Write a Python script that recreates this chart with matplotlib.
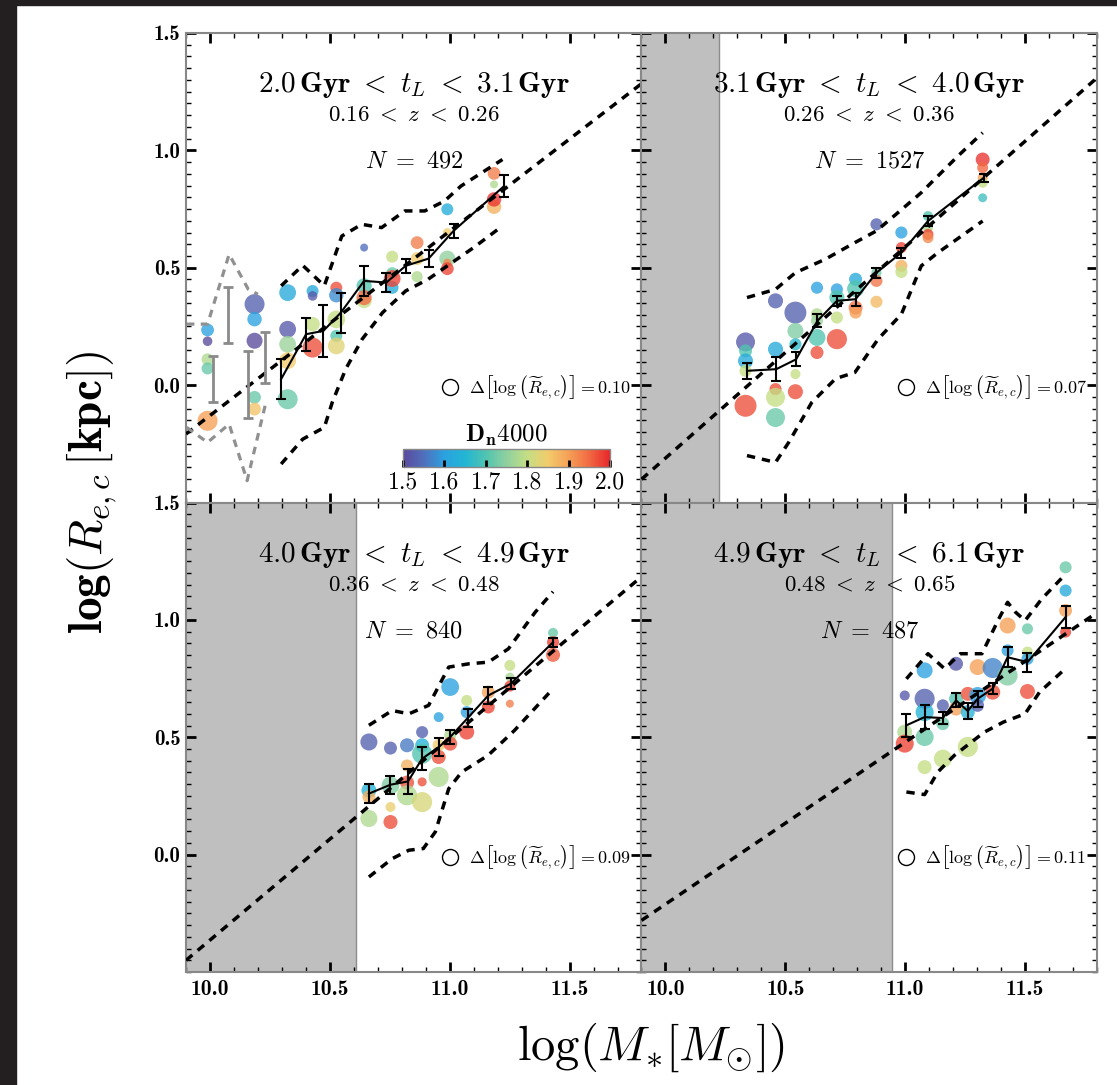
import numpy as np
import matplotlib
matplotlib.use("Agg")
import matplotlib.pyplot as plt
from matplotlib.colors import LinearSegmentedColormap, Normalize
from matplotlib.patches import Rectangle
from matplotlib.ticker import MultipleLocator

plt.rcParams['mathtext.fontset'] = 'cm'
plt.rcParams['font.family'] = 'cmb10'
plt.rcParams['axes.unicode_minus'] = False

# ---- data ----
# panel 1 : 2.0 < tL < 3.1 Gyr
p1_x = [9.99, 9.99, 9.99, 9.99, 9.99,
        10.186, 10.186, 10.186, 10.186, 10.186,
        10.324, 10.324, 10.324, 10.324, 10.324,
        10.428, 10.428, 10.428, 10.428,
        10.527, 10.527, 10.527, 10.527, 10.527,
        10.643, 10.643, 10.643, 10.643,
        10.76, 10.76, 10.76, 10.76,
        10.864, 10.864, 10.864,
        10.99, 10.99, 10.99, 10.99, 10.99,
        11.185, 11.185, 11.185, 11.185]
p1_y = [0.235, 0.187, 0.11, 0.071, -0.152,
        0.345, 0.281, 0.189, -0.052, -0.102,
        0.394, 0.238, 0.174, 0.104, -0.06,
        0.401, 0.38, 0.26, 0.16,
        0.415, 0.383, 0.28, 0.21, 0.167,
        0.586, 0.423, 0.36, 0.373,
        0.547, 0.477, 0.416, 0.454,
        0.607, 0.539, 0.462,
        0.749, 0.65, 0.539, 0.522, 0.496,
        0.902, 0.855, 0.76, 0.791]
p1_dn = [1.60, 1.50, 1.78, 1.72, 1.90,
         1.53, 1.60, 1.50, 1.72, 1.86,
         1.62, 1.52, 1.76, 1.85, 1.72,
         1.62, 1.52, 1.80, 1.97,
         1.97, 1.58, 1.80, 1.70, 1.83,
         1.55, 1.70, 1.80, 1.95,
         1.80, 1.72, 1.63, 1.98,
         1.93, 1.85, 1.78,
         1.63, 1.85, 1.75, 1.92, 1.98,
         1.93, 1.78, 1.88, 1.99]
p1_dr = [0.08, 0.06, 0.075, 0.075, 0.125,
         0.125, 0.09, 0.10, 0.08, 0.08,
         0.105, 0.105, 0.105, 0.105, 0.125,
         0.075, 0.06, 0.09, 0.125,
         0.075, 0.09, 0.11, 0.075, 0.105,
         0.05, 0.095, 0.095, 0.095,
         0.075, 0.075, 0.08, 0.105,
         0.08, 0.08, 0.07,
         0.075, 0.055, 0.10, 0.05, 0.08,
         0.08, 0.05, 0.09, 0.09]
p1_med_x = [10.297, 10.401, 10.473, 10.546, 10.643, 10.736, 10.816, 10.912, 11.016, 11.227]
p1_med_y = [0.026, 0.217, 0.231, 0.309, 0.444, 0.437, 0.508, 0.539, 0.657, 0.848]
p1_med_e = [0.085, 0.07, 0.11, 0.085, 0.064, 0.042, 0.03, 0.037, 0.03, 0.045]
p1_up_x = [10.297, 10.387, 10.477, 10.55, 10.633, 10.716, 10.813, 10.896, 10.978, 11.047, 11.22]
p1_up_y = [0.423, 0.51, 0.423, 0.635, 0.685, 0.671, 0.742, 0.742, 0.784, 0.848, 0.961]
p1_lo_x = [10.297, 10.387, 10.477, 10.51, 10.566, 10.635, 10.72, 10.816, 10.91, 10.99, 11.1, 11.22]
p1_lo_y = [-0.336, -0.23, -0.18, -0.074, 0.068, 0.196, 0.309, 0.401, 0.451, 0.508, 0.586, 0.678]
# incomplete low-mass bins (grey)
p1_gr_x = [10.013, 10.076, 10.159, 10.228]
p1_gr_y = [0.027, 0.30, 0.004, 0.119]
p1_gr_e = [0.098, 0.12, 0.142, 0.108]
p1_gup_x = [9.903, 9.99, 10.08, 10.16, 10.2]
p1_gup_y = [0.26, 0.26, 0.557, 0.408, 0.387]
p1_glo_x = [9.903, 9.99, 10.08, 10.155, 10.23]
p1_glo_y = [-0.18, -0.244, -0.166, -0.407, -0.088]

# panel 2 : 3.1 < tL < 4.0 Gyr
p2_x = [10.334] * 5 + [10.459] * 5 + [10.542] * 5 + [10.632] * 5 + [10.715] * 4 + \
       [10.793] * 4 + [10.88] * 4 + [10.984] * 4 + [11.095] * 4 + [11.323] * 5
p2_y = [0.184, 0.146, 0.103, 0.061, -0.088,
        0.359, 0.153, -0.017, -0.052, -0.138,
        0.309, 0.231, 0.174, 0.047, -0.028,
        0.415, 0.302, 0.274, 0.203, 0.139,
        0.408, 0.373, 0.288, 0.196,
        0.451, 0.411, 0.33, 0.309,
        0.685, 0.479, 0.444, 0.355,
        0.65, 0.586, 0.508, 0.482,
        0.72, 0.671, 0.642, 0.628,
        0.961, 0.926, 0.883, 0.862, 0.798]
p2_dn = [1.52, 1.70, 1.62, 1.80, 1.97,
         1.53, 1.62, 1.97, 1.80, 1.72,
         1.53, 1.74, 1.66, 1.80, 1.97,
         1.60, 1.78, 1.76, 1.70, 1.97,
         1.60, 1.70, 1.80, 1.97,
         1.62, 1.70, 1.94, 1.90,
         1.53, 1.72, 1.94, 1.87,
         1.60, 1.98, 1.88, 1.80,
         1.70, 1.78, 1.98, 1.92,
         1.99, 1.95, 1.90, 1.80, 1.68]
p2_dr = [0.083, 0.057, 0.066, 0.053, 0.096,
         0.066, 0.066, 0.053, 0.083, 0.083,
         0.096, 0.07, 0.053, 0.044, 0.066,
         0.053, 0.053, 0.053, 0.074, 0.057,
         0.053, 0.066, 0.053, 0.088,
         0.057, 0.074, 0.061, 0.053,
         0.053, 0.044, 0.053, 0.053,
         0.053, 0.048, 0.053, 0.053,
         0.044, 0.044, 0.048, 0.048,
         0.061, 0.048, 0.044, 0.044, 0.039]
p2_med_x = [10.34, 10.462, 10.545, 10.634, 10.715, 10.793, 10.88, 10.984, 11.095, 11.327]
p2_med_y = [0.061, 0.068, 0.11, 0.274, 0.359, 0.366, 0.479, 0.564, 0.699, 0.883]
p2_med_e = [0.033, 0.052, 0.03, 0.028, 0.02, 0.027, 0.021, 0.021, 0.021, 0.018]
p2_up_x = [10.34, 10.459, 10.542, 10.666, 10.79, 10.88, 10.97, 11.067, 11.22, 11.323]
p2_up_y = [0.373, 0.408, 0.479, 0.536, 0.607, 0.657, 0.735, 0.82, 0.976, 1.075]
p2_lo_x = [10.34, 10.459, 10.514, 10.61, 10.71, 10.79, 10.887, 10.984, 11.067, 11.136, 11.323]
p2_lo_y = [-0.3, -0.329, -0.244, -0.074, 0.028, 0.054, 0.196, 0.302, 0.508, 0.564, 0.699]

# panel 3 : 4.0 < tL < 4.9 Gyr
p3_x = [10.663] * 4 + [10.753] * 4 + [10.822] * 4 + [10.885] * 5 + [10.954] * 4 + \
       [11.002] * 3 + [11.071] * 3 + [11.161] * 2 + [11.251] * 4 + [11.431] * 3
p3_y = [0.48, 0.274, 0.246, 0.154,
        0.454, 0.295, 0.203, 0.139,
        0.466, 0.38, 0.307, 0.253,
        0.522, 0.466, 0.43, 0.31, 0.224,
        0.586, 0.466, 0.416, 0.331,
        0.714, 0.508, 0.473,
        0.657, 0.607, 0.522,
        0.692, 0.629,
        0.806, 0.756, 0.718, 0.643,
        0.945, 0.905, 0.851]
p3_dn = [1.53, 1.64, 1.88, 1.78,
         1.53, 1.74, 1.84, 1.97,
         1.56, 1.88, 1.97, 1.78,
         1.53, 1.64, 1.70, 1.97, 1.82,
         1.60, 1.85, 1.97, 1.78,
         1.60, 1.78, 1.97,
         1.80, 1.60, 1.98,
         1.90, 1.98,
         1.80, 1.77, 1.98, 1.93,
         1.72, 1.98, 1.96]
p3_dr = [0.096, 0.084, 0.073, 0.096,
         0.073, 0.10, 0.056, 0.079,
         0.079, 0.068, 0.079, 0.113,
         0.068, 0.079, 0.113, 0.051, 0.113,
         0.056, 0.068, 0.079, 0.113,
         0.10, 0.068, 0.079,
         0.062, 0.068, 0.084,
         0.073, 0.073,
         0.062, 0.051, 0.062, 0.045,
         0.056, 0.068, 0.079]
p3_med_x = [10.663, 10.753, 10.826, 10.885, 10.954, 11.002, 11.075, 11.161, 11.255, 11.431]
p3_med_y = [0.26, 0.298, 0.312, 0.409, 0.458, 0.501, 0.582, 0.678, 0.728, 0.905]
p3_med_e = [0.042, 0.039, 0.055, 0.05, 0.039, 0.028, 0.039, 0.035, 0.024, 0.019]
p3_up_x = [10.663, 10.76, 10.83, 10.912, 10.996, 11.08, 11.161, 11.245, 11.356, 11.431]
p3_up_y = [0.551, 0.614, 0.6, 0.636, 0.799, 0.813, 0.82, 0.877, 1.032, 1.12]
p3_lo_x = [10.663, 10.76, 10.83, 10.89, 10.94, 10.996, 11.05, 11.16, 11.27, 11.431]
p3_lo_y = [-0.095, -0.017, 0.019, 0.026, 0.097, 0.281, 0.352, 0.423, 0.529, 0.707]

# panel 4 : 4.9 < tL < 6.1 Gyr
p4_x = [10.998] * 3 + [11.081] * 5 + [11.157] * 3 + [11.212] * 3 + [11.261] * 3 + \
       [11.302] * 3 + [11.365] * 2 + [11.427] * 3 + [11.51] * 4 + [11.669] * 4
p4_y = [0.678, 0.522, 0.473,
        0.785, 0.664, 0.607, 0.501, 0.373,
        0.636, 0.558, 0.409,
        0.813, 0.664, 0.622,
        0.685, 0.607, 0.459,
        0.799, 0.678, 0.636,
        0.795, 0.692,
        0.976, 0.763, 0.87,
        0.962, 0.863, 0.834, 0.695,
        1.224, 1.125, 1.04, 0.948]
p4_dn = [1.52, 1.78, 1.98,
         1.60, 1.53, 1.64, 1.72, 1.80,
         1.53, 1.72, 1.80,
         1.52, 1.70, 1.90,
         1.97, 1.64, 1.80,
         1.90, 1.60, 1.53,
         1.57, 1.97,
         1.90, 1.74, 1.60,
         1.72, 1.80, 1.60, 1.97,
         1.72, 1.62, 1.90, 1.98]
p4_dr = [0.069, 0.103, 0.124,
         0.11, 0.138, 0.124, 0.124, 0.096,
         0.083, 0.089, 0.124,
         0.096, 0.096, 0.096,
         0.096, 0.096, 0.138,
         0.11, 0.117, 0.089,
         0.138, 0.103,
         0.11, 0.138, 0.083,
         0.076, 0.076, 0.083, 0.103,
         0.083, 0.083, 0.089, 0.076]
p4_med_x = [11.005, 11.081, 11.157, 11.212, 11.261, 11.302, 11.365, 11.427, 11.51, 11.669]
p4_med_y = [0.551, 0.586, 0.582, 0.657, 0.612, 0.664, 0.707, 0.841, 0.82, 1.012]
p4_med_e = [0.05, 0.05, 0.025, 0.03, 0.035, 0.035, 0.024, 0.042, 0.04, 0.047]
p4_up_x = [11.005, 11.095, 11.164, 11.23, 11.32, 11.39, 11.427, 11.46, 11.5, 11.57, 11.67]
p4_up_y = [0.749, 0.856, 0.792, 0.856, 0.856, 1.004, 1.075, 1.033, 0.997, 1.09, 1.196]
p4_lo_x = [11.005, 11.081, 11.136, 11.205, 11.33, 11.41, 11.5, 11.56, 11.66]
p4_lo_y = [0.267, 0.256, 0.352, 0.423, 0.522, 0.565, 0.6, 0.692, 0.785]

# reference relation (end points) and mass-completeness limits
ref_x = [9.9, 11.8]
ref_y = [[-0.208, 1.284], [-0.401, 1.309], [-0.45, 1.184], [-0.28, 1.031]]
mass_lim = [None, 10.224, 10.608, 10.946]

titles = [r'$\mathbf{2.0\,Gyr}\ <\ t_L\ <\ \mathbf{3.1\,Gyr}$',
          r'$\mathbf{3.1\,Gyr}\ <\ t_L\ <\ \mathbf{4.0\,Gyr}$',
          r'$\mathbf{4.0\,Gyr}\ <\ t_L\ <\ \mathbf{4.9\,Gyr}$',
          r'$\mathbf{4.9\,Gyr}\ <\ t_L\ <\ \mathbf{6.1\,Gyr}$']
zrange = [r'$\mathbf{0.16}\ <\ z\ <\ \mathbf{0.26}$',
          r'$\mathbf{0.26}\ <\ z\ <\ \mathbf{0.36}$',
          r'$\mathbf{0.36}\ <\ z\ <\ \mathbf{0.48}$',
          r'$\mathbf{0.48}\ <\ z\ <\ \mathbf{0.65}$']
n_gal = [492, 1527, 840, 487]
d_ref = [0.10, 0.07, 0.09, 0.11]

panels = [
    (p1_x, p1_y, p1_dn, p1_dr, p1_med_x, p1_med_y, p1_med_e, p1_up_x, p1_up_y, p1_lo_x, p1_lo_y),
    (p2_x, p2_y, p2_dn, p2_dr, p2_med_x, p2_med_y, p2_med_e, p2_up_x, p2_up_y, p2_lo_x, p2_lo_y),
    (p3_x, p3_y, p3_dn, p3_dr, p3_med_x, p3_med_y, p3_med_e, p3_up_x, p3_up_y, p3_lo_x, p3_lo_y),
    (p4_x, p4_y, p4_dn, p4_dr, p4_med_x, p4_med_y, p4_med_e, p4_up_x, p4_up_y, p4_lo_x, p4_lo_y),
]

cmap = LinearSegmentedColormap.from_list('dn', [
    '#5b4a9c', '#4f70bc', '#2aa2e0', '#22b6d4', '#50c4b0', '#8fd0a0',
    '#c4de84', '#f2cc6c', '#f5a057', '#f16a42', '#e8262a'])
norm = Normalize(1.5, 2.0)

fig, axes = plt.subplots(2, 2, figsize=(11.17, 10.85), dpi=100)
fig.subplots_adjust(left=0.1665, right=0.9821, top=0.9696, bottom=0.1041,
                    wspace=0, hspace=0)

LEG_PX = 16.0  # legend circle diameter in pixels
DASH = (0, (2.4, 2.0))
for i, ax in enumerate(axes.flat):
    (x, y, dn, dr, mx, my, me, ux, uy, lx, ly) = panels[i]
    ax.set_xlim(9.9, 11.8)
    ax.set_ylim(-0.5, 1.5)

    if mass_lim[i] is not None:
        ax.axvspan(9.9, mass_lim[i], color='#bfbfbf', zorder=0, lw=0)
        ax.axvline(mass_lim[i], color='#8c8c8c', lw=1, zorder=0.5)

    diam = LEG_PX * np.array(dr) / d_ref[i] * 0.72
    ax.scatter(x, y, s=diam ** 2, c=dn, cmap=cmap, norm=norm,
               alpha=0.78, edgecolors='none', zorder=2)

    ax.plot(ref_x, ref_y[i], color='k', lw=2.5, ls=DASH, zorder=3)
    ax.plot(ux, uy, color='k', lw=2.5, ls=DASH, zorder=3)
    ax.plot(lx, ly, color='k', lw=2.5, ls=DASH, zorder=3)
    ax.errorbar(mx, my, yerr=me, color='k', lw=1.5, capsize=3.5, capthick=1.5,
                elinewidth=1.5, zorder=4)

    if i == 0:
        ax.plot(p1_gup_x, p1_gup_y, color='#909090', lw=2.3, ls=DASH, zorder=3)
        ax.plot(p1_glo_x, p1_glo_y, color='#909090', lw=2.3, ls=DASH, zorder=3)
        ax.errorbar(p1_gr_x, p1_gr_y, yerr=p1_gr_e, fmt='none', ecolor='#8a8a8a',
                    elinewidth=2, capsize=3.5, capthick=2, zorder=3)

    ax.text(0.5, 0.889, titles[i], transform=ax.transAxes, ha='center', va='center',
            fontsize=21, zorder=6)
    ax.text(0.5, 0.826, zrange[i], transform=ax.transAxes, ha='center', va='center',
            fontsize=16.5, zorder=6)
    ax.text(0.5, 0.726, r'$N\ =\ \mathbf{%d}$' % n_gal[i], transform=ax.transAxes,
            ha='center', va='center', fontsize=17.5, zorder=6)

    ax.plot([0.58], [0.246], 'o', mfc='none', mec='k', mew=1.0, ms=LEG_PX * 0.72,
            transform=ax.transAxes, clip_on=False, zorder=6)
    ax.text(0.622, 0.246,
            r'$\mathbf{\Delta}\left[\log\left(\widetilde{R}_{e,c}\right)\right] = %.2f$' % d_ref[i],
            transform=ax.transAxes, ha='left', va='center', fontsize=13, zorder=6)

    ax.set_xticks([10.0, 10.5, 11.0, 11.5])
    ax.set_yticks([0.0, 0.5, 1.0, 1.5])
    ax.xaxis.set_minor_locator(MultipleLocator(0.1))
    ax.yaxis.set_minor_locator(MultipleLocator(0.05))
    ax.tick_params(which='both', direction='in', top=True, right=True, color='k')
    ax.tick_params(which='major', length=7, width=2)
    ax.tick_params(which='minor', length=3.5, width=1)
    ax.tick_params(axis='x', labelsize=15.5, pad=6)
    ax.tick_params(axis='y', labelsize=15, pad=4)
    for sp in ax.spines.values():
        sp.set_color('#888888')
        sp.set_linewidth(1.5)
    if i in (0, 2):
        ax.set_yticklabels(['0.0', '0.5', '1.0', '1.5'])
    else:
        ax.set_yticklabels([])
    if i in (2, 3):
        ax.set_xticklabels(['10.0', '10.5', '11.0', '11.5'])
    else:
        ax.set_xticklabels([])

# colour bar inside the first panel
cb_ticks = [1.5, 1.6, 1.7, 1.8, 1.9, 2.0]
cax = fig.add_axes([0.3608, 0.5696, 0.1853, 0.0166])
cb = fig.colorbar(plt.cm.ScalarMappable(norm=norm, cmap=cmap), cax=cax,
                  orientation='horizontal', ticks=cb_ticks)
cb.outline.set_edgecolor('#888888')
cb.outline.set_linewidth(1)
cax.tick_params(direction='in', length=5, width=2, color='k', pad=3)
cax.set_xticklabels(['%.1f' % t for t in cb_ticks], fontfamily='cmr10', fontsize=17)
cax.set_title(r'$\mathbf{D_n4000}$', fontsize=18, pad=5)

fig.text(0.082, 0.5465, r'$\mathbf{log(}R_{e,c}\,\mathbf{[kpc])}$', rotation=90,
         ha='center', va='center', fontsize=34)
fig.text(0.583, 0.035, r'$\log(M_{*}[M_{\odot}])$', ha='center', va='center', fontsize=35)

# dark screenshot border
fig.patches.append(Rectangle((0, 0), 16 / 1117, 1, transform=fig.transFigure,
                             color='#231f20', zorder=10))
fig.patches.append(Rectangle((0, 1 - 5 / 1085), 1, 5 / 1085, transform=fig.transFigure,
                             color='#231f20', zorder=10))

fig.savefig('out.png', dpi=100)
